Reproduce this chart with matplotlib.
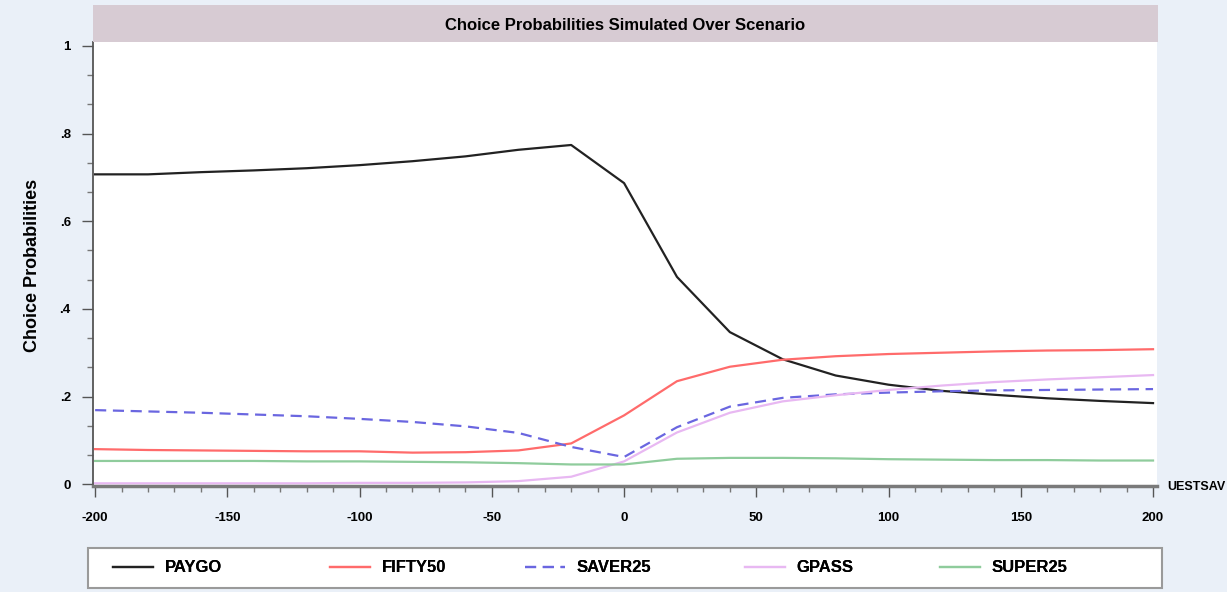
import matplotlib
matplotlib.use("Agg")
import matplotlib.pyplot as plt
from matplotlib.patches import Rectangle
from matplotlib.ticker import MultipleLocator

# scenario values (x) and simulated choice probabilities per plan
scenario = [-200, -180, -160, -140, -120, -100, -80, -60, -40, -20, 0,
            20, 40, 60, 80, 100, 120, 140, 160, 180, 200]
paygo = [0.707, 0.707, 0.712, 0.716, 0.721, 0.728, 0.737, 0.748, 0.763, 0.774, 0.687,
         0.473, 0.347, 0.285, 0.248, 0.227, 0.213, 0.204, 0.196, 0.190, 0.185]
fifty50 = [0.080, 0.078, 0.077, 0.076, 0.075, 0.075, 0.072, 0.073, 0.077, 0.093, 0.157,
           0.235, 0.268, 0.284, 0.292, 0.297, 0.300, 0.303, 0.305, 0.306, 0.308]
saver25 = [0.169, 0.166, 0.163, 0.159, 0.155, 0.149, 0.142, 0.132, 0.117, 0.085, 0.062,
           0.130, 0.177, 0.197, 0.205, 0.209, 0.212, 0.214, 0.215, 0.216, 0.217]
gpass = [0.002, 0.002, 0.002, 0.002, 0.002, 0.003, 0.003, 0.004, 0.007, 0.017, 0.052,
         0.118, 0.163, 0.189, 0.203, 0.215, 0.225, 0.233, 0.239, 0.244, 0.249]
super25 = [0.053, 0.053, 0.053, 0.053, 0.052, 0.052, 0.051, 0.050, 0.048, 0.045, 0.045,
           0.058, 0.060, 0.060, 0.059, 0.057, 0.056, 0.055, 0.055, 0.054, 0.054]

series = [
    ("PAYGO", paygo, "#222222", "-", 1.6),
    ("FIFTY50", fifty50, "#ff6b6b", "-", 1.6),
    ("SAVER25", saver25, "#6a66e0", (0, (5, 3)), 1.6),
    ("GPASS", gpass, "#e8b8f2", "-", 1.6),
    ("SUPER25", super25, "#8fcc9c", "-", 1.6),
]

plt.rcParams["font.family"] = ["Liberation Sans", "DejaVu Sans"]
plt.rcParams["font.weight"] = "bold"
plt.rcParams["axes.unicode_minus"] = False

W, H = 1227, 592
fig = plt.figure(figsize=(W / 100, H / 100), dpi=100)
fig.patch.set_facecolor("#eaf0f8")

# axes box in pixel units
left, right, top, bottom = 93, 1157, 42, 485.5
ax = fig.add_axes([left / W, 1 - bottom / H, (right - left) / W, (bottom - top) / H])
ax.set_facecolor("white")

for name, vals, color, ls, lw in series:
    ax.plot(scenario, vals, color=color, linestyle=ls, linewidth=lw, label=name)

ax.set_xlim(-200.8, 201.5)
ax.set_ylim(-0.003, 1.009)
ax.xaxis.set_major_locator(MultipleLocator(50))
ax.xaxis.set_minor_locator(MultipleLocator(10))
ax.yaxis.set_minor_locator(MultipleLocator(0.2 / 3))
ax.set_yticks([0, 0.2, 0.4, 0.6, 0.8, 1.0])
ax.set_yticklabels(["0", ".2", ".4", ".6", ".8", "1"])
ax.tick_params(axis="both", which="major", length=8, width=1, color="#555555",
               labelsize=9.5)
ax.tick_params(axis="x", which="major", pad=11)
ax.tick_params(axis="y", which="major", pad=8)
ax.tick_params(axis="both", which="minor", length=4, width=1, color="#777777")
for lab in ax.get_xticklabels() + ax.get_yticklabels():
    lab.set_fontweight("bold")

for s in ["top", "right"]:
    ax.spines[s].set_visible(False)
ax.spines["left"].set_color("#555555")
ax.spines["left"].set_linewidth(1.3)
ax.spines["bottom"].set_color("#7a7a7a")
ax.spines["bottom"].set_linewidth(2.5)

fig.text(33 / W, 1 - 265 / H, "Choice Probabilities", fontsize=13, fontweight="bold",
         rotation=90, ha="center", va="center")
fig.text(1167 / W, 1 - 487 / H, "UESTSAV", fontsize=9, fontweight="bold",
         ha="left", va="center")

# title band
fig.patches.append(Rectangle((left / W, 1 - top / H), (1158 - left) / W, (top - 5) / H,
                             transform=fig.transFigure, facecolor="#d7cbd3",
                             edgecolor="none"))
fig.text((left + 1158) / 2 / W, 1 - 26 / H, "Choice Probabilities Simulated Over Scenario",
         fontsize=12, fontweight="bold", ha="center", va="center")

# legend along the bottom: frame box, one entry per plan at fixed x
lx0, lx1, ly0, ly1 = 88, 1162, 548, 588
fig.patches.append(Rectangle((lx0 / W, 1 - ly1 / H), (lx1 - lx0) / W, (ly1 - ly0) / H,
                             transform=fig.transFigure, facecolor="white",
                             edgecolor="#9a9a9a", linewidth=1.5))
entry_x = [113, 330, 525, 745, 940]
handles, labels = ax.get_legend_handles_labels()
for h, lab, ex in zip(handles, labels, entry_x):
    fig.add_artist(fig.legend([h], [lab], loc="center left",
                              bbox_to_anchor=(ex / W, 1 - (ly0 + ly1) / 2 / H),
                              frameon=False, handlelength=2.4, handletextpad=0.7,
                              borderpad=0, borderaxespad=0,
                              prop={"weight": "bold", "size": 12}))

fig.savefig("out.png", dpi=100, facecolor=fig.get_facecolor())
